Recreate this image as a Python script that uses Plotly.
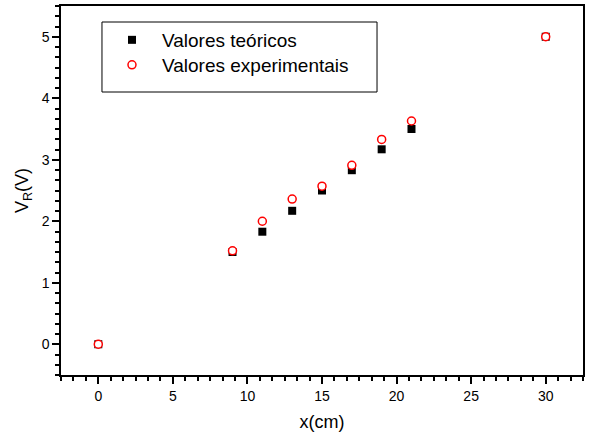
import plotly.graph_objects as go

x_cm = [0, 9, 11, 13, 15, 17, 19, 21, 30]
v_teoricos = [0, 1.50, 1.83, 2.17, 2.50, 2.83, 3.17, 3.50, 5.0]
v_experimentais = [0, 1.52, 2.00, 2.36, 2.57, 2.91, 3.33, 3.63, 5.0]

x_ticks = [0, 5, 10, 15, 20, 25, 30]
y_ticks = [0, 1, 2, 3, 4, 5]

fig = go.Figure()
fig.add_trace(go.Scatter(
    x=x_cm, y=v_teoricos, mode="markers", name="Valores teóricos", legend="legend",
    marker=dict(symbol="square", size=8, color="black", line=dict(width=0))))
fig.add_trace(go.Scatter(
    x=x_cm, y=v_experimentais, mode="markers", name="Valores experimentais", legend="legend2",
    marker=dict(symbol="circle", size=8, color="white", line=dict(width=1.5, color="#ff0000"))))

axis_common = dict(
    showgrid=False, zeroline=False, showline=True, linecolor="black", linewidth=1.5,
    mirror=True, ticks="outside", ticklen=7, tickwidth=1.5, tickcolor="black",
    tickfont=dict(size=14, color="black"), automargin=False,
)

fig.update_xaxes(
    range=[-2.5, 32.5], tickvals=x_ticks,
    title=dict(text="x(cm)", font=dict(size=18, color="black"), standoff=13),
    minor=dict(dtick=5/6, tick0=0, ticks="outside", ticklen=4, tickwidth=1.5, tickcolor="black"),
    **axis_common)
fig.update_yaxes(
    range=[-0.5, 5.5], tickvals=y_ticks,
    title=dict(text="V<sub>R</sub>(V)", font=dict(size=18, color="black"), standoff=8),
    minor=dict(dtick=1/6, tick0=0, ticks="outside", ticklen=4, tickwidth=1.5, tickcolor="black"),
    **axis_common)

legend_common = dict(
    xanchor="left", yanchor="middle", borderwidth=0, bgcolor="rgba(0,0,0,0)",
    font=dict(size=19, color="black"), itemwidth=50,
)

fig.update_layout(
    width=589, height=435,
    margin=dict(l=61, r=6, t=6, b=60, autoexpand=False),
    plot_bgcolor="white", paper_bgcolor="white",
    font=dict(family="Liberation Sans, Arial, sans-serif", color="black"),
    showlegend=True,
    legend=dict(x=0.0785, y=0.9079, **legend_common),
    legend2=dict(x=0.0785, y=0.8401, **legend_common),
    shapes=[dict(type="rect", xref="paper", yref="paper",
                 x0=0.0785, x1=0.6054, y0=0.7669, y1=0.9566,
                 line=dict(color="black", width=1), fillcolor="rgba(0,0,0,0)", layer="above")],
)

fig.write_html("out.html", config={"displayModeBar": False},
               post_script="document.body.style.margin='0px';")
